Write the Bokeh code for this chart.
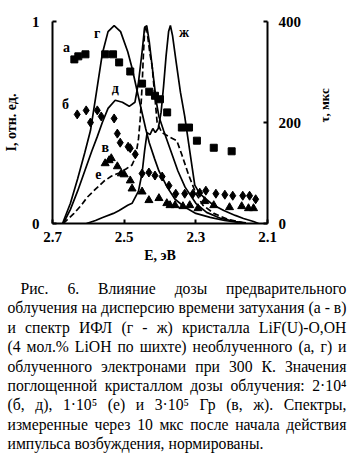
import math
import glob
from bokeh.plotting import figure
from bokeh.models import Range1d, LinearAxis, FixedTicker
from bokeh.layouts import column
from bokeh.embed import file_html
from bokeh.resources import INLINE
from bokeh.core.properties import value

# ---------------- data ----------------
# decay time tau (mks) vs photon energy E (eV)
E_a = [2.639, 2.628, 2.608, 2.553, 2.531, 2.514, 2.483, 2.45, 2.43, 2.414, 2.40, 2.38, 2.339, 2.319, 2.297, 2.25, 2.20]
tau_a = [325, 331, 335, 335, 335, 319, 301, 277, 261, 253, 246, 220, 190, 190, 164, 150, 143]

E_b = [2.631, 2.606, 2.594, 2.575, 2.564, 2.528, 2.519, 2.511, 2.489, 2.483, 2.469, 2.45, 2.431, 2.414, 2.394,
       2.375, 2.356, 2.331, 2.308, 2.289, 2.272, 2.244, 2.219, 2.197, 2.169, 2.15, 2.133]
tau_b = [216, 224, 200, 224, 212, 208, 178, 160, 152, 149, 137, 99, 101, 95, 93,
         75, 59, 59, 59, 61, 65, 59, 57, 55, 55, 55, 48]

E_v = [2.553, 2.542, 2.536, 2.519, 2.508, 2.5, 2.483, 2.478, 2.45, 2.431, 2.403, 2.381, 2.372, 2.358, 2.336,
       2.317, 2.294, 2.275, 2.25, 2.206, 2.172, 2.153, 2.139]
tau_v = [119, 125, 129, 113, 99, 97, 85, 69, 63, 46, 50, 40, 36, 36, 34,
         36, 30, 44, 36, 32, 34, 30, 30]

# normalized spectra I (rel. units) vs E (eV)
E_g = [2.672, 2.65, 2.63, 2.61, 2.594, 2.58, 2.561, 2.545, 2.528, 2.51, 2.49, 2.478, 2.458, 2.44, 2.43,
       2.415, 2.403, 2.38, 2.358, 2.33, 2.30, 2.26, 2.22, 2.18]
I_g = [0.0, 0.10, 0.22, 0.35, 0.46, 0.62, 0.84, 0.95, 0.98, 0.95, 0.85, 0.77, 0.61, 0.47, 0.40,
       0.32, 0.26, 0.18, 0.12, 0.08, 0.05, 0.03, 0.015, 0.005]

E_d = [2.67, 2.65, 2.63, 2.61, 2.59, 2.575, 2.561, 2.545, 2.525, 2.505, 2.486, 2.47, 2.46, 2.45, 2.443,
       2.437, 2.43, 2.42, 2.41, 2.403, 2.39, 2.37, 2.35, 2.33, 2.30, 2.27, 2.23, 2.19, 2.16]
I_d = [0.0, 0.07, 0.16, 0.26, 0.36, 0.43, 0.50, 0.57, 0.61, 0.60, 0.58, 0.60, 0.70, 0.85, 0.97,
       0.98, 0.90, 0.75, 0.60, 0.53, 0.46, 0.36, 0.26, 0.18, 0.10, 0.055, 0.025, 0.01, 0.003]

E_e = [2.67, 2.64, 2.62, 2.603, 2.58, 2.556, 2.535, 2.514, 2.495, 2.478, 2.468, 2.46, 2.455, 2.45, 2.446,
       2.442, 2.436, 2.428, 2.422, 2.414, 2.408, 2.395, 2.375, 2.353, 2.339, 2.32, 2.30, 2.28, 2.25, 2.21, 2.17]
I_e = [0.0, 0.05, 0.09, 0.13, 0.17, 0.21, 0.235, 0.25, 0.27, 0.29, 0.33, 0.42, 0.52, 0.68, 0.85,
       0.98, 0.95, 0.84, 0.78, 0.62, 0.50, 0.45, 0.43, 0.41, 0.34, 0.24, 0.15, 0.09, 0.05, 0.02, 0.005]

E_zh = [2.605, 2.58, 2.56, 2.53, 2.514, 2.49, 2.478, 2.46, 2.45, 2.443, 2.436, 2.428, 2.42, 2.413, 2.405,
        2.397, 2.39, 2.383, 2.376, 2.371, 2.365, 2.355, 2.343, 2.331, 2.317, 2.303, 2.29, 2.278, 2.25, 2.222,
        2.19, 2.167, 2.139, 2.125]
I_zh = [0.0, 0.015, 0.03, 0.05, 0.064, 0.09, 0.10, 0.16, 0.25, 0.36, 0.45, 0.44, 0.47, 0.45, 0.47,
        0.55, 0.68, 0.83, 0.95, 0.98, 0.93, 0.80, 0.65, 0.53, 0.36, 0.19, 0.15, 0.13, 0.09, 0.064,
        0.04, 0.025, 0.01, 0.0]

x_ticks = [2.7, 2.5, 2.3, 2.1]
x_tick_labels = ["2.7", "2.5", "2.3", "2.1"]
y_ticks = [0, 1]
y_tick_labels = ["0", "1"]
tau_ticks = [0, 200, 400]
tau_tick_labels = ["0", "200", "400"]

series_letters = ["а", "б", "в", "г", "д", "е", "ж"]

caption_lines = [
    "Рис. 6. Влияние дозы предварительного",
    "облучения на дисперсию времени затухания (а - в)",
    "и спектр ИФЛ (г - ж) кристалла LiF(U)-O,OH",
    "(4 мол.% LiOH по шихте) необлученного (а, г) и",
    "облученного электронами при 300 К. Значения",
    "поглощенной кристаллом дозы облучения: 2·10⁴",
    "(б, д), 1·10⁵ (е) и 3·10⁵ Гр (в, ж). Спектры,",
    "измеренные через 10 мкс после начала действия",
    "импульса возбуждения, нормированы.",
]

# ---------------- chart ----------------
SERIF = "Liberation Serif"
CH_H = 268

p = figure(width=352, height=CH_H, x_range=Range1d(2.7, 2.1), y_range=Range1d(0, 1),
           output_backend="svg", toolbar_location=None,
           min_border_left=50, min_border_right=85, min_border_top=21, min_border_bottom=CH_H - 223)
p.extra_y_ranges = {"tau": Range1d(0, 400)}
p.grid.visible = False
p.outline_line_color = None
p.background_fill_color = "white"
p.border_fill_color = "white"

ax_r = LinearAxis(y_range_name="tau")
p.add_layout(ax_r, "right")

p.xaxis.ticker = FixedTicker(ticks=x_ticks)
p.xaxis.major_label_overrides = dict(zip(x_ticks, x_tick_labels))
p.yaxis[0].ticker = FixedTicker(ticks=y_ticks)
p.yaxis[0].major_label_overrides = dict(zip(y_ticks, y_tick_labels))
ax_r.ticker = FixedTicker(ticks=tau_ticks)
ax_r.major_label_overrides = dict(zip(tau_ticks, tau_tick_labels))

for ax in [p.xaxis[0], p.yaxis[0], ax_r]:
    ax.axis_line_width = 2
    ax.axis_line_color = "black"
    ax.major_tick_in = 4
    ax.major_tick_out = 0
    ax.major_tick_line_width = 2
    ax.minor_tick_line_color = None
    ax.major_label_text_font = SERIF
    ax.major_label_text_font_style = "bold"
    ax.major_label_text_font_size = "15px"
    ax.major_label_text_color = "black"
    ax.axis_label_text_font = SERIF
    ax.axis_label_text_font_style = "bold"
    ax.axis_label_text_color = "black"

p.xaxis.axis_label = "E, эВ"
p.xaxis.axis_label_text_font_size = "14px"
p.xaxis.major_label_standoff = 8
p.xaxis.axis_label_standoff = 3

p.yaxis[0].axis_label = "I, отн. ед."
p.yaxis[0].axis_label_text_font_size = "14px"
p.yaxis[0].major_label_standoff = 13
p.yaxis[0].axis_label_standoff = 10

ax_r.axis_label = "τ, мкс"
ax_r.axis_label_text_font_size = "13px"
ax_r.major_label_standoff = 11
ax_r.axis_label_standoff = 20
try:
    ax_r.axis_label_orientation = math.pi / 2
except Exception:
    pass

LW = 1.7
p.line(E_g, I_g, line_color="black", line_width=LW)
p.line(E_d, I_d, line_color="black", line_width=LW)
p.line(E_zh, I_zh, line_color="black", line_width=LW)
p.line(E_e, I_e, line_color="black", line_width=LW, line_dash="6 3")

p.scatter(E_a, tau_a, marker="square", size=7, color="black", y_range_name="tau")
p.scatter(E_b, tau_b, marker="diamond", size=9, color="black", y_range_name="tau")
p.scatter(E_v, tau_v, marker="triangle", size=8, color="black", y_range_name="tau")

lab_x = [2.661, 2.664, 2.553, 2.575, 2.525, 2.572, 2.333]
lab_y = [0.87, 0.59, 0.376, 0.94, 0.668, 0.243, 0.946]
p.text(x=lab_x, y=lab_y, text=series_letters, text_font=value(SERIF), text_font_style="bold",
       text_font_size="14px", text_align="center", text_baseline="middle", text_color="black")

# ---------------- caption ----------------
CAP_SIZE = 15.7


def _char_w(ch):
    if ch == " ":
        return 0.25
    if ch in ".,:·":
        return 0.25
    if ch in "()-":
        return 0.333
    if ch == "%":
        return 0.833
    if ch in "жшщюмф":
        return 0.7
    if ch in "ыЗ":
        return 0.65
    if ch.isdigit():
        return 0.5
    if ch in "⁴⁵":
        return 0.3
    if ch.isupper():
        return 0.68
    return 0.48


def make_measure():
    try:
        from PIL import ImageFont
        hits = []
        for pat in ("/usr/share/fonts/**/LiberationSerif-Regular.ttf",
                    "/usr/local/share/fonts/**/LiberationSerif-Regular.ttf"):
            hits += glob.glob(pat, recursive=True)
        if hits:
            f = ImageFont.truetype(hits[0], 100)
            return lambda s: f.getlength(s) * CAP_SIZE / 100.0
    except Exception:
        pass
    return lambda s: sum(_char_w(c) for c in s) * CAP_SIZE


measure = make_measure()

CAP_H = 455 - CH_H
c = figure(width=352, height=CAP_H, x_range=Range1d(0, 352), y_range=Range1d(455, CH_H),
           output_backend="svg", toolbar_location=None, x_axis_type=None, y_axis_type=None,
           min_border=0, min_border_left=0, min_border_right=0, min_border_top=0, min_border_bottom=0)
c.grid.visible = False
c.outline_line_color = None
c.background_fill_color = "white"
c.border_fill_color = "white"

for plot in (p, c):
    try:
        plot.frame_align = False
    except Exception:
        pass

wx, wy, wt = [], [], []
RIGHT = 346
FIRST_BASE = 288
LINE_STEP = 19.4
for i, line in enumerate(caption_lines):
    base = FIRST_BASE + i * LINE_STEP
    left = 20 if i == 0 else 7
    words = line.split(" ")
    widths = [measure(w) for w in words]
    if i < len(caption_lines) - 1 and len(words) > 1:
        gap = (RIGHT - left - sum(widths)) / (len(words) - 1)
        gap = max(gap, 0.15 * CAP_SIZE)
    else:
        gap = measure(" ")
    xpos = left
    for w, wd in zip(words, widths):
        wx.append(xpos)
        wy.append(base)
        wt.append(w)
        xpos += wd + gap

c.text(x=wx, y=wy, text=wt, text_font=value(SERIF), text_font_size=f"{CAP_SIZE}px",
       text_align="left", text_baseline="alphabetic", text_color="black")

layout = column(p, c, spacing=0)
open("out.html", "w").write(file_html(layout, INLINE))
